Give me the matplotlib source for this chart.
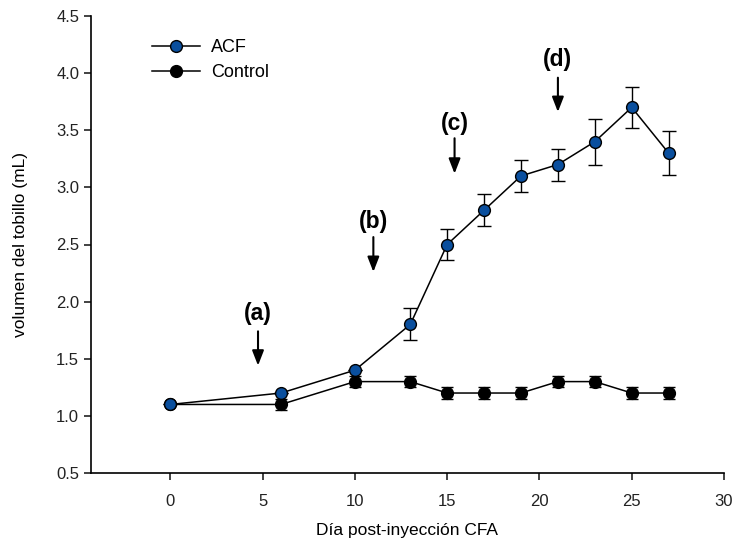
import numpy as np
import matplotlib
matplotlib.use("Agg")
import matplotlib.pyplot as plt
from matplotlib.lines import Line2D

plt.rcParams['font.family'] = ['Liberation Sans Narrow', 'Liberation Sans', 'DejaVu Sans']

# data
dias = [0, 6, 10, 13, 15, 17, 19, 21, 23, 25, 27]
acf = [1.1, 1.2, 1.4, 1.8, 2.5, 2.8, 3.1, 3.2, 3.4, 3.7, 3.3]
acf_err = [0.0, 0.0, 0.0, 0.14, 0.14, 0.14, 0.14, 0.14, 0.2, 0.18, 0.19]
control = [1.1, 1.1, 1.3, 1.3, 1.2, 1.2, 1.2, 1.3, 1.3, 1.2, 1.2]
control_err = [0.0, 0.05, 0.05, 0.05, 0.05, 0.05, 0.05, 0.05, 0.05, 0.05, 0.05]

etiquetas = ['(a)', '(b)', '(c)', '(d)']
etiq_x = [4.75, 11.0, 15.4, 21.0]
etiq_y = [1.90, 2.70, 3.56, 4.12]
flecha_ini = [1.74, 2.565, 3.43, 3.96]
flecha_fin = [1.44, 2.26, 3.12, 3.66]

azul = '#0a4f9e'

fig = plt.figure(figsize=(7.35, 5.46), dpi=100)
ax = fig.add_axes([91/735, 1 - 473/546, (724 - 91)/735, (473 - 16)/546])

ax.errorbar(dias, control, yerr=control_err, color='black', marker='o', markersize=8.5,
            markerfacecolor='black', markeredgecolor='black', lw=1.1,
            elinewidth=1, capsize=4, capthick=1, zorder=3)
ax.errorbar(dias, acf, yerr=acf_err, color='black', marker='o', markersize=8.5,
            markerfacecolor=azul, markeredgecolor='black', markeredgewidth=1, lw=1.1,
            elinewidth=1, capsize=5, capthick=1, zorder=4)

for t, x, y, y0, y1 in zip(etiquetas, etiq_x, etiq_y, flecha_ini, flecha_fin):
    ax.text(x, y, t, ha='center', va='center', fontsize=16.5, fontweight='bold')
    ax.annotate('', xy=(x, y1), xytext=(x, y0),
                arrowprops=dict(arrowstyle='-|>,head_width=0.35,head_length=0.9',
                                color='black', lw=1.5, shrinkA=0, shrinkB=0))

ax.set_xlim(-4.3, 30)
ax.set_ylim(0.5, 4.5)
ax.set_xticks([0, 5, 10, 15, 20, 25, 30])
ax.set_yticks(np.arange(0.5, 4.51, 0.5))
ax.set_yticklabels(['%.1f' % v for v in np.arange(0.5, 4.51, 0.5)])
ax.spines['top'].set_visible(False)
ax.spines['right'].set_visible(False)
ax.spines['left'].set_linewidth(1.2)
ax.spines['bottom'].set_linewidth(1.2)
ax.tick_params(direction='out', length=5, width=1.2, labelsize=12, colors='#222222')
ax.tick_params(axis='x', pad=10)
ax.set_xlabel('Día post-inyección CFA', fontsize=12.5, labelpad=10)
ax.set_ylabel('volumen del tobillo (mL)', fontsize=12.5, labelpad=20)

handles = [
    Line2D([], [], color='black', lw=1.1, marker='o', markersize=8.5,
           markerfacecolor=azul, markeredgecolor='black'),
    Line2D([], [], color='black', lw=1.1, marker='o', markersize=8.5,
           markerfacecolor='black', markeredgecolor='black'),
]
ax.legend(handles, ['ACF', 'Control'], loc='upper left', bbox_to_anchor=(0.07, 0.985),
          frameon=False, fontsize=13, handlelength=2.7, handletextpad=0.6, labelspacing=0.45)

fig.savefig('out.png', dpi=100)
